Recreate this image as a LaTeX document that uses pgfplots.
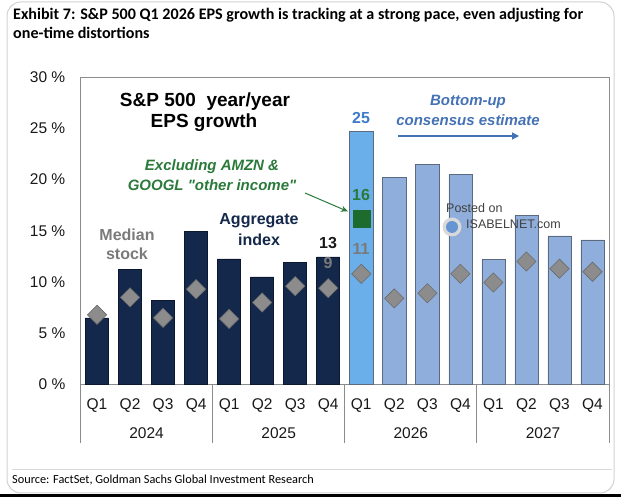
\documentclass[border=0pt]{standalone}
\usepackage{pgfplots}
\pgfplotsset{compat=1.18}
\usepackage{fontspec}
\setmainfont{Liberation Sans}
\newfontfamily\straightq{Liberation Sans}[Ligatures=TeXOff]
\newfontfamily\titlefont{Carlito}
\usetikzlibrary{arrows.meta}
\definecolor{navy}{HTML}{14284B}
\definecolor{navyedge}{HTML}{0B1830}
\definecolor{hiblue}{HTML}{6AAEEA}
\definecolor{midblue}{HTML}{8FAEDB}
\definecolor{barline}{HTML}{5C6A80}
\definecolor{dia}{HTML}{8C8C8C}
\definecolor{diaedge}{HTML}{6A6A6A}
\definecolor{grn}{HTML}{2A7A3A}
\definecolor{sq}{HTML}{1E6B2E}
\definecolor{lblue}{HTML}{3E7BC8}
\definecolor{estblue}{HTML}{4472B4}
\definecolor{medgray}{HTML}{7A7A7A}
\pgfplotstableread{
x y
0 6.5
1 11.2
2 8.2
3 14.9
4 12.25
5 10.5
6 11.9
7 12.45
}\aggpast
\pgfplotstableread{
x y
8 24.7
}\aggcur
\pgfplotstableread{
x y
9 20.2
10 21.5
11 20.5
12 12.2
13 16.5
14 14.5
15 14.1
}\aggest
\pgfplotstableread{
x y
0 6.8
1 8.5
2 6.5
3 9.3
4 6.4
5 8.0
6 9.6
7 9.4
8 10.8
9 8.4
10 8.9
11 10.8
12 9.95
13 12.0
14 11.3
15 11.0
}\median
\begin{document}
\begin{tikzpicture}
\path[use as bounding box] (0pt,0pt) rectangle (621pt,497pt);
\begin{axis}[
  at={(80.5pt,112.5pt)}, anchor=south west,
  width=528.5pt, height=307.5pt, scale only axis,
  xmin=-0.5, xmax=15.5, ymin=0, ymax=30,
  axis line style={draw=black!45, line width=0.9pt},
  major tick length=0pt,
  ytick={0,5,10,15,20,25,30},
  yticklabels={0 \%,5 \%,10 \%,15 \%,20 \%,25 \%,30 \%},
  xtick={0,...,15},
  xticklabels={Q1,Q2,Q3,Q4,Q1,Q2,Q3,Q4,Q1,Q2,Q3,Q4,Q1,Q2,Q3,Q4},
  tick label style={font=\fontsize{15.5}{18}\selectfont, text=black!90},
  yticklabel style={inner sep=0pt, xshift=-15pt},
  xticklabel style={inner sep=0pt, yshift=-14pt},
  clip=false,
]
\addplot[ybar, bar width=0.7, bar shift=0pt, fill=navy, draw=navyedge, line width=0.6pt] table[x=x,y=y] {\aggpast};
\addplot[ybar, bar width=0.7, bar shift=0pt, fill=hiblue, draw=barline, line width=0.6pt] table[x=x,y=y] {\aggcur};
\addplot[ybar, bar width=0.7, bar shift=0pt, fill=midblue, draw=barline, line width=0.6pt] table[x=x,y=y] {\aggest};
\addplot[only marks, mark=square*, mark size=6.8pt, mark options={rotate=45, fill=dia, draw=diaedge, line width=0.6pt}] table[x=x,y=y] {\median};
\addplot[only marks, mark=square*, mark size=8.5pt, mark options={fill=sq, draw=sq}] coordinates {(8,16.2)};
\end{axis}
\begin{scope}[x=1pt,y=1pt]
% card
\draw[black!18, line width=1pt, rounded corners=14pt] (7,4) rectangle (614,495);
\fill[black] (0,0) rectangle (621,3);
\draw[black!15, line width=0.8pt] (12,28) -- (612,28);
\node[anchor=west, inner sep=0pt] at (13,482) {\titlefont\bfseries\fontsize{16.1}{18}\selectfont Exhibit 7: S\&P 500 Q1 2026 EPS growth is tracking at a strong pace, even adjusting for};
\node[anchor=west, inner sep=0pt] at (13,464) {\titlefont\bfseries\fontsize{16.1}{18}\selectfont one-time distortions};
\node[anchor=west, inner sep=0pt] at (12,17) {\titlefont\fontsize{12.3}{14}\selectfont Source: FactSet, Goldman Sachs Global Investment Research};
% category separators
\foreach \xx in {80.5,212.6,344.7,476.9,609} {\draw[black!45, line width=0.9pt] (\xx,112.5) -- (\xx,54);}
\foreach \xx/\yy in {146.6/2024,278.7/2025,410.8/2026,543/2027} {\node[inner sep=0pt, text=black!90] at (\xx,64) {\fontsize{15.5}{18}\selectfont \yy};}
% annotations
\node[inner sep=0pt] at (205,395) {\bfseries\fontsize{19}{22}\selectfont S\&P 500\ \ year/year};
\node[inner sep=0pt] at (204,374) {\bfseries\fontsize{19}{22}\selectfont EPS growth};
\node[inner sep=0pt, text=grn] at (212,330) {\bfseries\itshape\fontsize{15}{18}\selectfont Excluding AMZN \&};
\node[inner sep=0pt, text=grn] at (212,312) {\straightq\bfseries\itshape\fontsize{15}{18}\selectfont GOOGL "other income"};
\draw[grn, line width=1pt, -{Stealth[length=7pt,width=6pt]}] (305,304) -- (348,285.5);
\node[inner sep=0pt, text=medgray] at (127,262) {\bfseries\fontsize{16}{19}\selectfont Median};
\node[inner sep=0pt, text=medgray] at (127,243) {\bfseries\fontsize{16}{19}\selectfont stock};
\node[inner sep=0pt, text=navy] at (259,276) {\bfseries\fontsize{16}{19}\selectfont Aggregate};
\node[inner sep=0pt, text=navy] at (259,257) {\bfseries\fontsize{16}{19}\selectfont index};
\node[inner sep=0pt, text=black!90] at (328,254) {\bfseries\fontsize{16}{19}\selectfont 13};
\node[inner sep=0pt, text=medgray] at (328,234) {\bfseries\fontsize{16}{19}\selectfont 9};
\node[inner sep=0pt, text=lblue] at (361,379) {\bfseries\fontsize{16}{19}\selectfont 25};
\node[inner sep=0pt, text=grn] at (361,302) {\bfseries\fontsize{16}{19}\selectfont 16};
\node[inner sep=0pt, text=medgray] at (361,248) {\bfseries\fontsize{16}{19}\selectfont 11};
\node[inner sep=0pt, text=estblue] at (468,395) {\bfseries\itshape\fontsize{15}{18}\selectfont Bottom-up};
\node[inner sep=0pt, text=estblue] at (468,377) {\bfseries\itshape\fontsize{15}{18}\selectfont consensus estimate};
\draw[estblue, line width=1.3pt, -{Triangle[length=7pt,width=7pt]}] (398,361) -- (519,361);
% watermark
\node[anchor=west, inner sep=0pt, text=black!75] at (446,289) {\fontsize{12.5}{14}\selectfont Posted on};
\fill[black!15] (452,270) circle (9.5);
\fill[lblue!80] (452,270) circle (6);
\node[anchor=west, inner sep=0pt, text=black!75] at (466,273) {\fontsize{12.5}{14}\selectfont ISABELNET.com};
\end{scope}
\end{tikzpicture}
\end{document}
